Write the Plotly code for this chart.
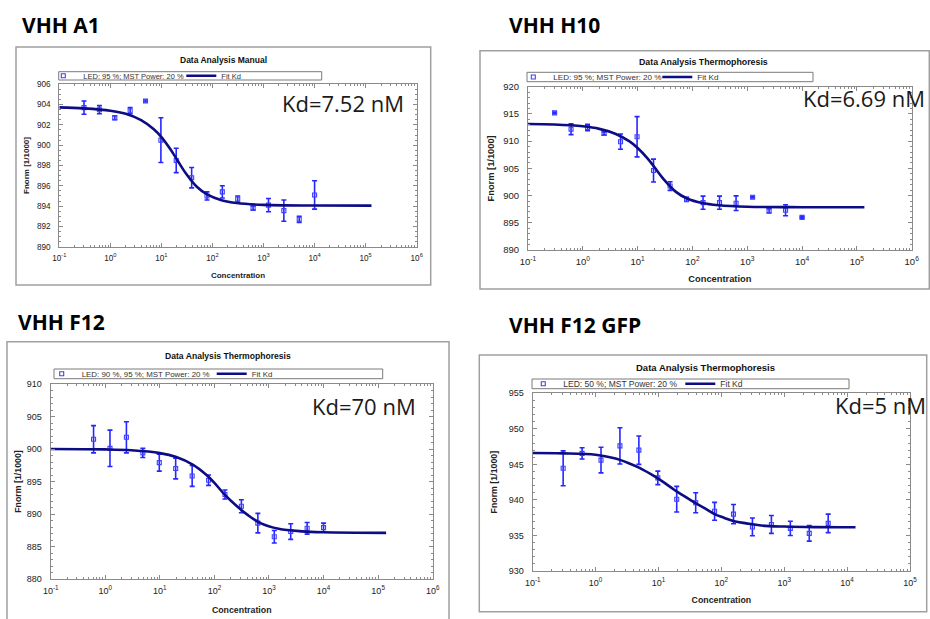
import plotly.graph_objects as go

W, H = 930, 619

# ---------------- data ----------------
conc_all = [0.305, 0.61, 1.22, 2.44, 4.88, 9.77, 19.5, 39.1, 78.1, 156, 312, 625, 1250, 2500, 5000, 10000]

a1_conc = conc_all
a1_fnorm = [903.7, 903.5, 902.7, 903.4, 904.35, 900.5, 898.5, 896.8, 895.0, 895.4, 894.7, 893.8, 894.1, 893.55, 892.7, 895.1]
a1_err = [0.65, 0.4, 0.2, 0.3, 0.1, 2.2, 1.2, 1.0, 0.4, 0.6, 0.3, 0.2, 0.65, 1.05, 0.3, 1.4]
a1_fit_conc = [0.1, 0.3, 1, 2, 4, 7, 10, 15, 20, 30, 50, 80, 150, 300, 1000, 10000, 130000]
a1_fit = [903.73, 903.63, 903.4, 903.09, 902.47, 901.59, 900.8, 899.6, 898.62, 897.24, 895.88, 895.12, 894.58, 894.3, 894.12, 894.06, 894.05]

h10_conc = conc_all
h10_fnorm = [915.2, 912.2, 912.5, 911.4, 909.9, 910.8, 904.6, 901.75, 899.3, 898.7, 898.7, 898.6, 899.7, 897.2, 897.3, 896.0]
h10_err = [0.15, 1.0, 0.6, 0.3, 1.4, 3.7, 2.1, 0.8, 0.4, 1.2, 1.2, 1.35, 0.15, 0.4, 1.0, 0.15]
h10_fit_conc = [0.1, 0.3, 1, 2, 4, 7, 10, 15, 20, 30, 50, 80, 150, 300, 1000, 10000, 137000]
h10_fit = [913.15, 913.05, 912.72, 912.25, 911.32, 909.99, 908.74, 906.88, 905.29, 902.98, 900.68, 899.45, 898.62, 898.22, 897.95, 897.86, 897.85]

f12_conc = conc_all[1:]
f12_fnorm = [901.5, 900.1, 901.8, 899.4, 897.9, 897.0, 895.85, 895.2, 893.0, 891.2, 888.6, 886.5, 887.3, 887.8, 887.9]
f12_err = [2.1, 2.8, 2.4, 0.7, 1.3, 1.6, 1.6, 0.8, 0.7, 1.0, 1.5, 0.95, 1.2, 0.9, 0.7]
f12_fit_conc = [0.1, 1, 3, 10, 20, 40, 70, 100, 150, 250, 400, 700, 1500, 4000, 10000, 140000]
f12_fit = [900.0, 899.94, 899.8, 899.37, 898.76, 897.6, 896.08, 894.8, 893.1, 891.3, 889.9, 888.6, 887.73, 887.33, 887.19, 887.1]

gfp_conc = conc_all[:-1]
gfp_fnorm = [944.45, 946.55, 945.6, 947.6, 947.0, 943.1, 940.1, 939.6, 938.4, 938.0, 936.2, 936.55, 936.0, 935.3, 936.7]
gfp_err = [2.45, 0.8, 1.8, 2.55, 2.0, 0.95, 1.8, 1.4, 1.25, 1.35, 1.25, 1.25, 1.0, 1.1, 1.3]
gfp_fit_conc = [0.1, 0.3, 1, 2, 3.3, 5, 8.7, 12, 18, 25, 38, 55, 78, 110, 160, 250, 430, 1000, 3000, 13600]
gfp_fit = [946.6, 946.55, 946.35, 945.85, 945.2, 944.5, 943.3, 942.5, 941.4, 940.6, 939.6, 938.8, 938.0, 937.5, 937.0, 936.7, 936.4, 936.25, 936.17, 936.15]

x_tickvals = [0.1, 1, 10, 100, 1000, 10000, 100000, 1000000]
x_ticktext = ["10<sup>-1</sup>", "10<sup>0</sup>", "10<sup>1</sup>", "10<sup>2</sup>",
              "10<sup>3</sup>", "10<sup>4</sup>", "10<sup>5</sup>", "10<sup>6</sup>"]

panel_names = ["VHH A1", "VHH H10", "VHH F12", "VHH F12 GFP"]
chart_titles = ["Data Analysis Manual", "Data Analysis Thermophoresis",
                "Data Analysis Thermophoresis", "Data Analysis Thermophoresis"]
legend_labels = ["LED: 95 %; MST Power: 20 %", "LED: 95 %; MST Power: 20 %",
                 "LED: 90 %, 95 %; MST Power: 20 %", "LED: 50 %; MST Power: 20 %"]
kd_labels = ["Kd=7.52 nM", "Kd=6.69 nM", "Kd=70 nM", "Kd=5 nM"]

# ---------------- layout geometry (pixels) ----------------
def px(x):
    return x / W

def py(y):
    return 1 - y / H

panels = [
    dict(conc=a1_conc, y=a1_fnorm, e=a1_err, fc=a1_fit_conc, fy=a1_fit,
         plot=(59.3, 416.7, 84.3, 246.7), box=(16, 430.7, 47, 285),
         yr=[890, 906], ydt=2, ymin=0.5, xr=[-1, 6], nx=8, tf=8.2,
         xso=10, yso=6,
         name_xy=(20, 25), title_xy=(223, 60), tsz=8.5,
         leg_box=(58.7, 321.7, 71.7, 80), leg_text_x=83.3, leg_y=75.8, leg_w=93, lsz=7.5,
         kd_xy=(343, 103), kd_anchor="center"),
    dict(conc=h10_conc, y=h10_fnorm, e=h10_err, fc=h10_fit_conc, fy=h10_fit,
         plot=(528, 911.7, 86.7, 250), box=(480, 929.3, 50.7, 289),
         yr=[890, 920], ydt=5, ymin=1, xr=[-1, 6], nx=8, tf=9.5,
         xso=9, yso=6,
         name_xy=(507, 25), title_xy=(703, 62), tsz=8.8,
         leg_box=(527, 813, 72.3, 81.7), leg_text_x=553.3, leg_y=77, leg_w=99, lsz=8.1,
         kd_xy=(927, 98), kd_anchor="right"),
    dict(conc=f12_conc, y=f12_fnorm, e=f12_err, fc=f12_fit_conc, fy=f12_fit,
         plot=(50.7, 432.7, 384, 579), box=(7, 449, 341.7, 640),
         yr=[880, 910], ydt=5, ymin=1, xr=[-1, 6], nx=8, tf=9,
         xso=12, yso=3,
         name_xy=(16, 322), title_xy=(228, 356), tsz=8.6,
         leg_box=(54, 382.7, 369, 378.7), leg_text_x=81.7, leg_y=373.8, leg_w=125, lsz=7.9,
         kd_xy=(364, 406), kd_anchor="center"),
    dict(conc=gfp_conc, y=gfp_fnorm, e=gfp_err, fc=gfp_fit_conc, fy=gfp_fit,
         plot=(532.7, 910, 393.3, 571), box=(479.3, 926.7, 355, 611.7),
         yr=[930, 955], ydt=5, ymin=1, xr=[-1, 5], nx=7, tf=9,
         xso=10, yso=9,
         name_xy=(507, 325), title_xy=(705, 367), tsz=9.5,
         leg_box=(532, 849, 379, 388.7), leg_text_x=563.3, leg_y=383.8, leg_w=112, lsz=8.5,
         kd_xy=(928, 405), kd_anchor="right"),
]

MARKER_BLUE = "#4040ff"
ERR_BLUE = "#2626ff"
FIT_NAVY = "#0c0c85"
AXIS_GRAY = "#8a8a8a"

fig = go.Figure()
layout = dict(width=W, height=H, margin=dict(l=0, r=0, t=0, b=0),
              paper_bgcolor="white", plot_bgcolor="white", showlegend=True)
shapes = []
annotations = []

for i, p in enumerate(panels):
    n = "" if i == 0 else str(i + 1)
    xa, ya = "x" + n, "y" + n
    leg = "legend" + n

    fig.add_trace(go.Scatter(
        x=p["conc"], y=p["y"], mode="markers", name=legend_labels[i],
        xaxis=xa, yaxis=ya, legend=leg,
        marker=dict(symbol="square-open", size=4, color=MARKER_BLUE, line=dict(width=1.1)),
        error_y=dict(type="data", array=p["e"], visible=True, color=ERR_BLUE, thickness=1.6, width=2.5),
        cliponaxis=False))
    fig.add_trace(go.Scatter(
        x=p["fc"], y=p["fy"], mode="lines", name="Fit Kd",
        xaxis=xa, yaxis=ya, legend=leg,
        line=dict(color=FIT_NAVY, width=2.6, shape="spline", smoothing=1.0)))

    x0, x1, y0, y1 = p["plot"]
    tickfont = dict(family="Liberation Sans, Arial", size=p["tf"], color="#222")
    titlefont = dict(family="Liberation Sans, Arial", size=p["tf"] - 0.2, color="#222", weight="bold")
    layout["xaxis" + n] = dict(
        domain=[px(x0), px(x1)], anchor=ya, type="log", range=p["xr"],
        tickmode="array", tickvals=x_tickvals[:p["nx"]], ticktext=x_ticktext[:p["nx"]],
        ticks="inside", ticklen=4, tickwidth=1, tickcolor=AXIS_GRAY,
        showline=True, linecolor=AXIS_GRAY, linewidth=1, mirror="allticks",
        showgrid=False, zeroline=False, tickfont=tickfont, ticklabelstandoff=3,
        minor=dict(ticks="inside", ticklen=2, tickcolor=AXIS_GRAY, dtick="D1", showgrid=False),
        title=dict(text="Concentration", font=titlefont, standoff=p["xso"]), automargin=False)
    layout["yaxis" + n] = dict(
        domain=[py(y1), py(y0)], anchor=xa, range=p["yr"], dtick=p["ydt"], tick0=p["yr"][0],
        ticks="inside", ticklen=4, tickwidth=1, tickcolor=AXIS_GRAY,
        showline=True, linecolor=AXIS_GRAY, linewidth=1, mirror="allticks",
        showgrid=False, zeroline=False, tickfont=tickfont, ticklabelstandoff=6,
        minor=dict(ticks="inside", ticklen=2, tickcolor=AXIS_GRAY, dtick=p["ymin"], showgrid=False),
        title=dict(text="Fnorm [1/1000]", font=titlefont, standoff=p["yso"]), automargin=False)

    layout[leg] = dict(orientation="h", x=px(p["leg_text_x"] - 40), y=py(p["leg_y"]),
                       xanchor="left", yanchor="middle", bgcolor="rgba(0,0,0,0)",
                       borderwidth=0, font=dict(family="Liberation Sans, Arial", size=p["lsz"], color="#333"),
                       entrywidth=p["leg_w"], entrywidthmode="pixels", itemwidth=30,
                       tracegroupgap=0, itemclick=False)

    bx0, bx1, by0, by1 = p["box"]
    shapes.append(dict(type="rect", xref="paper", yref="paper", x0=px(bx0), x1=px(bx1),
                       y0=py(by1), y1=py(by0), line=dict(color="#a0a0a0", width=1.5),
                       fillcolor="rgba(0,0,0,0)", layer="below"))
    lx0, lx1, ly0, ly1 = p["leg_box"]
    shapes.append(dict(type="rect", xref="paper", yref="paper", x0=px(lx0), x1=px(lx1),
                       y0=py(ly1), y1=py(ly0), line=dict(color="#7a7a7a", width=1),
                       fillcolor="rgba(0,0,0,0)", layer="below"))

    annotations.append(dict(text=panel_names[i], x=px(p["name_xy"][0]), y=py(p["name_xy"][1]),
                            xref="paper", yref="paper", xanchor="left", yanchor="middle",
                            showarrow=False,
                            font=dict(family="Open Sans", size=21, color="black", weight="bold")))
    annotations.append(dict(text=chart_titles[i], x=px(p["title_xy"][0]), y=py(p["title_xy"][1]),
                            xref="paper", yref="paper", xanchor="center", yanchor="middle",
                            showarrow=False,
                            font=dict(family="Liberation Sans, Arial", size=p["tsz"], color="#111", weight="bold")))
    annotations.append(dict(text=kd_labels[i], x=px(p["kd_xy"][0]), y=py(p["kd_xy"][1]),
                            xref="paper", yref="paper", xanchor=p["kd_anchor"], yanchor="middle",
                            showarrow=False,
                            font=dict(family="Open Sans", size=22, color="#1a1a1a")))

layout["shapes"] = shapes
layout["annotations"] = annotations
fig.update_layout(**layout)
fig.write_html("out.html", config={"displayModeBar": False},
               post_script="document.body.style.margin='0';document.body.style.overflow='hidden';")
